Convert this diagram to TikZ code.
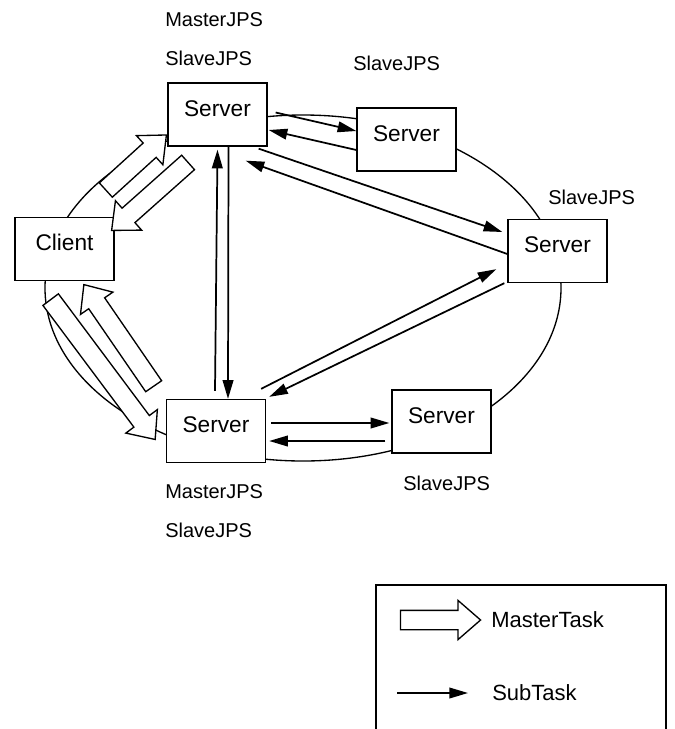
\documentclass[tikz,border=0pt]{standalone}
\usepackage{fontspec}
\setmainfont{Liberation Sans}
\usetikzlibrary{arrows.meta,calc,shapes.arrows}

% hollow MasterTask arrow: name, tail, tip
\newcommand{\mtask}[3]{%
\path let \p1=(#2), \p2=(#3), \n1={atan2(\y2-\y1,\x2-\x1)}, \n2={veclen(\x2-\x1,\y2-\y1)} in
  node[master, rotate=\n1, minimum height=\n2] (#1) at ($(\p1)!0.5!(\p2)$) {};}

\begin{document}
\begin{tikzpicture}[x=0.75pt,y=-0.75pt,>={Triangle[length=14pt,width=8pt]},
  box/.style={draw,fill=white,line width=1pt,minimum width=74.25pt,inner xsep=0pt,inner ysep=0pt,
    text height=24.75pt,text depth=22.5pt,font=\fontsize{17}{20}\selectfont},
  jps/.style={anchor=west,inner sep=0pt,font=\fontsize{15}{18}\selectfont},
  key/.style={anchor=west,inner sep=0pt,font=\fontsize{16.5}{20}\selectfont},
  sub/.style={->,line width=1.3pt},
  master/.style={single arrow,draw,fill=white,line width=1pt,inner xsep=0pt,inner ysep=6.75pt,
    single arrow head extend=7.5pt,single arrow tip angle=82},
  ring/.style={line width=1pt}]
\useasboundingbox (0,0) rectangle (675,729);

\draw[ring] (303,288) ellipse [x radius=193.5pt, y radius=129.75pt];

\node[box] (S0) at (217.5,114.5) {Server};
\node[box] (C)  at (64.5,249)    {Client};
\node[box] (S1) at (406.5,139.5) {Server};
\node[box] (S2) at (557.5,251)   {Server};
\node[box] (S3) at (441.5,421.5) {Server};
\node[box] (S4) at (216,431)     {Server};

\node[jps] (m0) at (165,20)  {MasterJPS};
\node[jps] (l0) at (165,58)  {SlaveJPS};
\node[jps] (l1) at (353,63)  {SlaveJPS};
\node[jps] (l2) at (548,197) {SlaveJPS};
\node[jps] (l3) at (403,483) {SlaveJPS};
\node[jps] (m4) at (165,492) {MasterJPS};
\node[jps] (l4) at (165,530) {SlaveJPS};

% master tasks
\mtask{H1}{[shift={(-13,-23)}]C.north east}{[shift={(-5,-8)}]S0.south west}
\mtask{H2}{[shift={(25,12)}]S0.south west}{[shift={(1,10)}]C.north east}
\mtask{H3}{[shift={(33,14)}]C.south west}{[shift={(-14,4)}]S4.west}
\mtask{H4}{[shift={(-9,-8)}]S4.north west}{[shift={(22.5,8)}]C.south}

% sub tasks
\path[sub]
([shift={(8,-2)}]S0.east)        edge ([shift={(0,-8.5)}]S1.west)
([shift={(0,10.5)}]S1.west)      edge ([shift={(1,15.5)}]S0.east)
([shift={(-9,2)}]S0.south east)  edge ([shift={(-5,-19)}]S2.west)
([shift={(0,3)}]S2.west)         edge ([shift={(-22,14)}]S0.south east)
([shift={(-1,-8)}]S4.north)      edge ([shift={(0,3)}]S0.south)
([shift={(11,0)}]S0.south)       edge ([shift={(12,0)}]S4.north)
([shift={(-5,-10)}]S4.north east) edge ([shift={(-11,-14)}]S2.south west)
([shift={(-3,0)}]S2.south west)  edge ([shift={(3,-2)}]S4.north east)
([shift={(5,-8)}]S4.east)        edge ([shift={(-2,1.5)}]S3.west)
([shift={(-6,19.5)}]S3.west)     edge ([shift={(3,10)}]S4.east);

% legend
\draw[line width=1pt] (376,729) |- (666,585) -- (666,729);
\node[key] (mt) at (491,620) {MasterTask};
\node[key] (st) at (492,693) {SubTask};
\coordinate (lm) at (395,620);
\coordinate (ls) at (397,693);
\mtask{HL}{lm}{[shift={(-16,0)}]mt.west}
\draw[sub] (ls) -- ([shift={(-24,0)}]st.west);
\end{tikzpicture}
\end{document}
